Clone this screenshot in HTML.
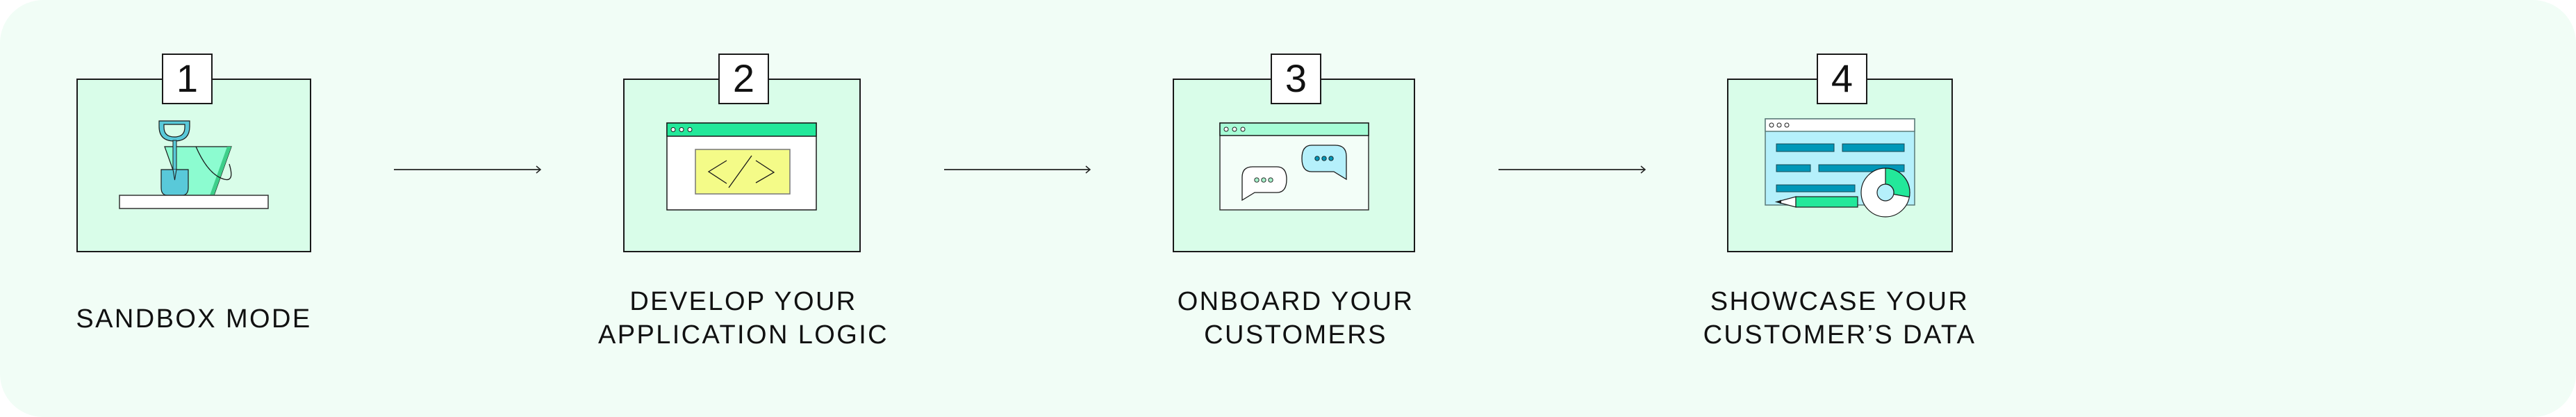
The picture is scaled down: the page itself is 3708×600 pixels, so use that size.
<!DOCTYPE html>
<html><head><meta charset="utf-8"><style>
html,body{margin:0;padding:0;background:#fff;width:3708px;height:600px;overflow:hidden}
svg{display:block}
text{font-family:"Liberation Sans",sans-serif;fill:#111}
.lbl{font-size:38px;letter-spacing:2.4px}
.num{font-size:56px}
</style></head><body>
<svg width="3708" height="600" viewBox="0 0 3708 600" xmlns="http://www.w3.org/2000/svg">
<rect x="0" y="0" width="3708" height="600" rx="62" fill="#f1fdf6"/>

<!-- Box 1 -->
<rect x="111" y="114" width="336" height="248" fill="#d9fde9" stroke="#1a1a1a" stroke-width="2"/>
<rect x="234" y="78" width="71" height="71" fill="#fff" stroke="#1a1a1a" stroke-width="2"/>
<text class="num" x="269.5" y="132" text-anchor="middle">1</text>
<!-- bucket -->
<path d="M237,211 L333,211 L308,281 L262,281 Z" fill="#8cfcd0" stroke="#1a1a1a" stroke-width="1.2"/>
<path d="M327,211 L333,211 L308,281 L302,281 Z" fill="#3ecf8a"/>
<path d="M282,211 Q300,252 323,258 Q338,262 330,236" fill="none" stroke="#1a1a1a" stroke-width="1.3"/>
<!-- shovel -->
<path d="M229,174 L273,174 L273,182 Q273,203 251,203 Q229,203 229,182 Z M236,179 L266,179 L266,183 Q266,197 251,197 Q236,197 236,183 Z" fill="#59c9d9" fill-rule="evenodd" stroke="#1a1a1a" stroke-width="1.2"/>
<rect x="249" y="202" width="5" height="44" fill="#59c9d9" stroke="#1a1a1a" stroke-width="1"/>
<path d="M232,244 L271,244 L271,270 Q271,281 262,281 L241,281 Q232,281 232,270 Z" fill="#59c9d9" stroke="#1a1a1a" stroke-width="1.2"/>
<path d="M249,244 L251.5,259 L254,244" fill="#59c9d9" stroke="#1a1a1a" stroke-width="1"/>
<rect x="172" y="281" width="214" height="19" fill="#fff" stroke="#333" stroke-width="1.5"/>
<text class="lbl" x="279" y="471" text-anchor="middle">SANDBOX MODE</text>

<!-- arrow 1 -->
<line x1="567" y1="244" x2="777" y2="244" stroke="#222" stroke-width="1.8"/>
<path d="M772,239 L778,244 L772,249" fill="none" stroke="#222" stroke-width="1.5"/>

<!-- Box 2 -->
<rect x="898" y="114" width="340" height="248" fill="#d9fde9" stroke="#1a1a1a" stroke-width="2"/>
<rect x="1035" y="78" width="71" height="71" fill="#fff" stroke="#1a1a1a" stroke-width="2"/>
<text class="num" x="1070.5" y="132" text-anchor="middle">2</text>
<rect x="960" y="177" width="215" height="125" fill="#fff" stroke="#1a1a1a" stroke-width="1.5"/>
<rect x="960" y="177" width="215" height="19" fill="#23e89a" stroke="#1a1a1a" stroke-width="1.5"/>
<circle cx="969" cy="186.5" r="3" fill="#fff" stroke="#1a1a1a"/><circle cx="981" cy="186.5" r="3" fill="#fff" stroke="#1a1a1a"/><circle cx="993" cy="186.5" r="3" fill="#fff" stroke="#1a1a1a"/>
<rect x="1001" y="215" width="136" height="64" fill="#f4fb88" stroke="#777" stroke-width="1.5"/>
<path d="M1046,231 L1020,247 L1046,264 M1082,224 L1049,270 M1088,231 L1114,248 L1088,263" fill="none" stroke="#1a1a1a" stroke-width="1.3"/>
<text class="lbl" x="1070" y="446" text-anchor="middle">DEVELOP YOUR</text>
<text class="lbl" x="1070" y="494" text-anchor="middle">APPLICATION LOGIC</text>

<!-- arrow 2 -->
<line x1="1359" y1="244" x2="1568" y2="244" stroke="#222" stroke-width="1.8"/>
<path d="M1563,239 L1569,244 L1563,249" fill="none" stroke="#222" stroke-width="1.5"/>

<!-- Box 3 -->
<rect x="1689" y="114" width="347" height="248" fill="#d9fde9" stroke="#1a1a1a" stroke-width="2"/>
<rect x="1830" y="78" width="71" height="71" fill="#fff" stroke="#1a1a1a" stroke-width="2"/>
<text class="num" x="1865.5" y="132" text-anchor="middle">3</text>
<rect x="1756" y="177" width="214" height="125" fill="#f3fef8" stroke="#333" stroke-width="1.5"/>
<rect x="1756" y="177" width="214" height="18" fill="#a6fcd6" stroke="#1a1a1a" stroke-width="1.5"/>
<circle cx="1765" cy="186" r="3" fill="#fff" stroke="#1a1a1a"/><circle cx="1777" cy="186" r="3" fill="#fff" stroke="#1a1a1a"/><circle cx="1789" cy="186" r="3" fill="#fff" stroke="#1a1a1a"/>
<path d="M1788,288 L1788,255 Q1788,240 1803,240 L1838,240 Q1852,240 1852,258 Q1852,277 1838,277 L1806,277 Z" fill="#fff" stroke="#1a1a1a" stroke-width="1.3"/>
<circle cx="1809" cy="259" r="3.2" fill="#a6f0c9" stroke="#1a1a1a" stroke-width="0.9"/><circle cx="1819" cy="259" r="3.2" fill="#a6f0c9" stroke="#1a1a1a" stroke-width="0.9"/><circle cx="1829" cy="259" r="3.2" fill="#a6f0c9" stroke="#1a1a1a" stroke-width="0.9"/>
<path d="M1938,258 L1938,225 Q1938,209 1922,209 L1888,209 Q1874,209 1874,228 Q1874,247 1888,247 L1920,247 Z" fill="#b5f0fb" stroke="#1a1a1a" stroke-width="1.3"/>
<circle cx="1896" cy="228" r="3.2" fill="#0097b8" stroke="#1a1a1a" stroke-width="0.9"/><circle cx="1906" cy="228" r="3.2" fill="#0097b8" stroke="#1a1a1a" stroke-width="0.9"/><circle cx="1916" cy="228" r="3.2" fill="#0097b8" stroke="#1a1a1a" stroke-width="0.9"/>
<text class="lbl" x="1865" y="446" text-anchor="middle">ONBOARD YOUR</text>
<text class="lbl" x="1865" y="494" text-anchor="middle">CUSTOMERS</text>

<!-- arrow 3 -->
<line x1="2157" y1="244" x2="2367" y2="244" stroke="#222" stroke-width="1.8"/>
<path d="M2362,239 L2368,244 L2362,249" fill="none" stroke="#222" stroke-width="1.5"/>

<!-- Box 4 -->
<rect x="2487" y="114" width="323" height="248" fill="#d9fde9" stroke="#1a1a1a" stroke-width="2"/>
<rect x="2616" y="78" width="71" height="71" fill="#fff" stroke="#1a1a1a" stroke-width="2"/>
<text class="num" x="2651.5" y="132" text-anchor="middle">4</text>
<rect x="2541" y="171" width="215" height="124" fill="#b5f0fb" stroke="#5a7a78" stroke-width="1.5"/>
<rect x="2541" y="171" width="215" height="18" fill="#fff" stroke="#5a7a78" stroke-width="1.5"/>
<circle cx="2550" cy="180" r="3" fill="#fff" stroke="#1a1a1a"/><circle cx="2561" cy="180" r="3" fill="#fff" stroke="#1a1a1a"/><circle cx="2572" cy="180" r="3" fill="#fff" stroke="#1a1a1a"/>
<g fill="#0097b8" stroke="#1a4a55" stroke-width="1">
<rect x="2557" y="207" width="83" height="11"/><rect x="2652" y="207" width="89" height="11"/>
<rect x="2557" y="237" width="49" height="10"/><rect x="2618" y="237" width="123" height="10"/>
<rect x="2557" y="266" width="113" height="10"/>
</g>
<path d="M2585,283 L2585,298 L2557,290.5 Z" fill="#fff" stroke="#1a1a1a" stroke-width="1.2"/>
<path d="M2564,287.5 L2557,290.5 L2564,293.5 Z" fill="#1a1a1a"/>
<rect x="2585" y="283" width="89" height="15" fill="#23e89a" stroke="#1a1a1a" stroke-width="1.2"/>
<circle cx="2714" cy="277" r="35" fill="#fff" stroke="#1a1a1a" stroke-width="1.2"/>
<path d="M2714,242 A35,35 0 0 1 2748.4,283.5 L2725.8,279.5 A12,12 0 0 0 2714,265 Z" fill="#23e89a" stroke="#1a1a1a" stroke-width="1.2"/>
<circle cx="2714" cy="277" r="12" fill="#b5f0fb" stroke="#1a1a1a" stroke-width="1.2"/>
<text class="lbl" x="2648" y="446" text-anchor="middle">SHOWCASE YOUR</text>
<text class="lbl" x="2648" y="494" text-anchor="middle">CUSTOMER’S DATA</text>
</svg>
</body></html>
